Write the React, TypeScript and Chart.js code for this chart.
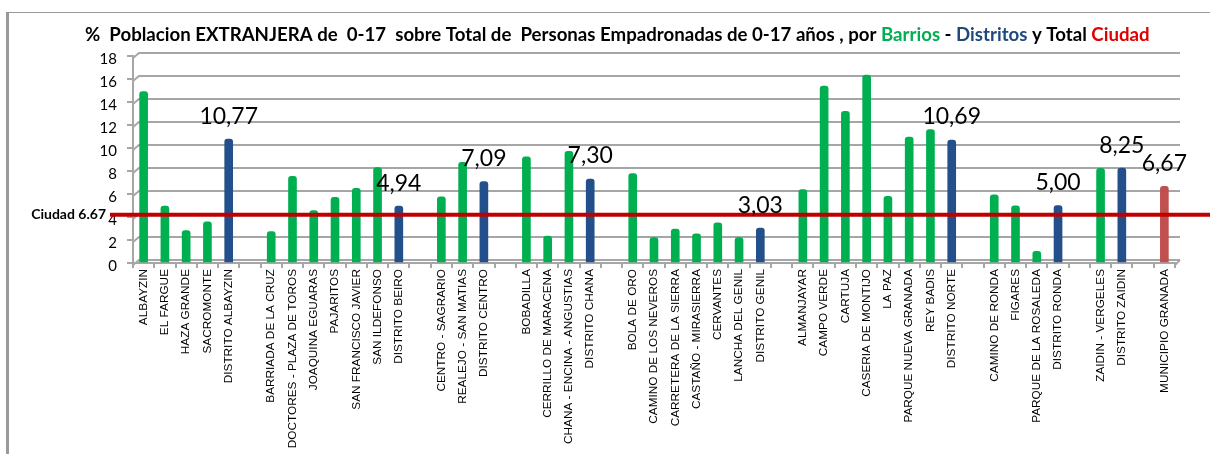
import React, { useEffect, useRef } from "react";
import { Chart, registerables } from "chart.js";

Chart.register(...registerables);

// ---- DATA ----
const CATEGORIES: string[] = [
  "ALBAYZIN", "EL FARGUE", "HAZA GRANDE", "SACROMONTE", "DISTRITO ALBAYZIN", "",
  "BARRIADA DE LA CRUZ", "DOCTORES - PLAZA DE TOROS", "JOAQUINA EGUARAS", "PAJARITOS", "SAN FRANCISCO JAVIER", "SAN ILDEFONSO", "DISTRITO BEIRO", "",
  "CENTRO - SAGRARIO", "REALEJO - SAN MATIAS", "DISTRITO CENTRO", "",
  "BOBADILLA", "CERRILLO DE MARACENA", "CHANA - ENCINA - ANGUSTIAS", "DISTRITO CHANA", "",
  "BOLA DE ORO", "CAMINO DE LOS NEVEROS", "CARRETERA DE LA SIERRA", "CASTAÑO - MIRASIERRA", "CERVANTES", "LANCHA DEL GENIL", "DISTRITO GENIL", "",
  "ALMANJAYAR", "CAMPO VERDE", "CARTUJA", "CASERIA DE MONTIJO", "LA PAZ", "PARQUE NUEVA GRANADA", "REY BADIS", "DISTRITO NORTE", "",
  "CAMINO DE RONDA", "FIGARES", "PARQUE DE LA ROSALEDA", "DISTRITO RONDA", "",
  "ZAIDIN - VERGELES", "DISTRITO ZAIDIN", "",
  "MUNICIPIO GRANADA",
];

const VALUES: (number | null)[] = [
  14.9, 4.94, 2.83, 3.58, 10.77, null,
  2.74, 7.53, 4.56, 5.71, 6.5, 8.29, 4.94, null,
  5.75, 8.75, 7.09, null,
  9.24, 2.34, 9.7, 7.3, null,
  7.77, 2.2, 2.94, 2.54, 3.5, 2.22, 3.03, null,
  6.38, 15.39, 13.19, 16.34, 5.8, 10.94, 11.6, 10.69, null,
  5.92, 4.97, 1.01, 5.0, null,
  8.23, 8.25, null,
  6.67,
];

// B = barrio, D = distrito, M = municipio
const KINDS: string[] = [
  "B", "B", "B", "B", "D", "",
  "B", "B", "B", "B", "B", "B", "D", "",
  "B", "B", "D", "",
  "B", "B", "B", "D", "",
  "B", "B", "B", "B", "B", "B", "D", "",
  "B", "B", "B", "B", "B", "B", "B", "D", "",
  "B", "B", "B", "D", "",
  "B", "D", "",
  "M",
];

const Y_MAX = 18;
const Y_STEP = 2;
const CIUDAD_LABEL = "Ciudad 6.67";
const CIUDAD_LINE_AT = 4.2;

const TITLE_PARTS: { text: string; color: string }[] = [
  { text: "%  Poblacion EXTRANJERA de  0-17  sobre Total de  Personas Empadronadas de 0-17 años , por ", color: "#000000" },
  { text: "Barrios", color: "#00b050" },
  { text: " - ", color: "#000000" },
  { text: "Distritos", color: "#1f497d" },
  { text: " y Total ", color: "#000000" },
  { text: "Ciudad", color: "#e00000" },
];

const KIND_COLORS: Record<string, string> = {
  B: "#00b050",
  D: "#23508a",
  M: "#c0504d",
};

const GRID = "#a6a6a6";

export default function App() {
  const ref = useRef<HTMLCanvasElement | null>(null);

  useEffect(() => {
    if (!ref.current) return;

    const framePlugin = {
      id: "frame",
      beforeDraw(chart: any) {
        const ctx = chart.ctx;
        ctx.save();
        ctx.fillStyle = "#ffffff";
        ctx.fillRect(0, 0, chart.width, chart.height);
        ctx.strokeStyle = "#9a9a9a";
        ctx.lineWidth = 1;
        ctx.beginPath();
        ctx.moveTo(6, 12.5);
        ctx.lineTo(chart.width, 12.5);
        ctx.stroke();
        ctx.lineWidth = 3;
        ctx.beginPath();
        ctx.moveTo(7.5, 12);
        ctx.lineTo(7.5, chart.height);
        ctx.stroke();

        // title
        const target = 1065;
        const full = TITLE_PARTS.map((p) => p.text).join("");
        ctx.font = "bold 15px Lato";
        const w15 = ctx.measureText(full).width;
        const size = (15 * target) / w15;
        ctx.font = `bold ${size.toFixed(2)}px Lato`;
        let x = 85;
        ctx.textBaseline = "middle";
        ctx.textAlign = "left";
        for (const p of TITLE_PARTS) {
          ctx.fillStyle = p.color;
          ctx.fillText(p.text, x, 35);
          x += ctx.measureText(p.text).width;
        }
        ctx.restore();
      },
    };

    const gridPlugin = {
      id: "grid3d",
      beforeDatasetsDraw(chart: any) {
        const ctx = chart.ctx;
        const ys = chart.scales.y;
        const { left, right } = chart.chartArea;
        ctx.save();
        ctx.strokeStyle = GRID;
        ctx.lineWidth = 2;
        for (let v = 0; v <= Y_MAX; v += Y_STEP) {
          const y = ys.getPixelForValue(v);
          ctx.beginPath();
          ctx.moveTo(left, y + 2);
          ctx.lineTo(left + 6, y - 3);
          ctx.lineTo(right + 5, y - 3);
          ctx.stroke();
        }
        const y0 = ys.getPixelForValue(0);
        ctx.beginPath();
        ctx.moveTo(right, y0 + 2);
        ctx.lineTo(right + 5, y0 - 3);
        ctx.stroke();
        ctx.restore();
      },
    };

    const overlayPlugin = {
      id: "overlay",
      afterDatasetsDraw(chart: any) {
        const ctx = chart.ctx;
        const ys = chart.scales.y;
        const meta = chart.getDatasetMeta(0);
        ctx.save();
        const yl = ys.getPixelForValue(CIUDAD_LINE_AT);
        ctx.strokeStyle = "#c00000";
        ctx.lineWidth = 4;
        ctx.beginPath();
        ctx.moveTo(110, yl);
        ctx.lineTo(chart.width, yl);
        ctx.stroke();
        ctx.fillStyle = "#000000";
        ctx.font = "bold 14px Lato";
        ctx.textAlign = "right";
        ctx.textBaseline = "middle";
        ctx.fillText(CIUDAD_LABEL, 106, yl);

        ctx.font = "23px Lato";
        ctx.textAlign = "center";
        ctx.textBaseline = "middle";
        meta.data.forEach((el: any, i: number) => {
          const k = KINDS[i];
          const v = VALUES[i];
          if ((k === "D" || k === "M") && v != null) {
            ctx.fillStyle = "#000000";
            ctx.fillText(v.toFixed(2).replace(".", ","), el.x, el.y - 23);
          }
        });
        ctx.restore();
      },
    };

    const chart = new Chart(ref.current, {
      type: "bar",
      data: {
        labels: CATEGORIES,
        datasets: [
          {
            data: VALUES as any,
            backgroundColor: KINDS.map((k) => KIND_COLORS[k] || "#00b050"),
            barThickness: 8,
            borderRadius: { topLeft: 3, topRight: 3, bottomLeft: 0, bottomRight: 0 },
            borderSkipped: "bottom",
          },
        ],
      },
      options: {
        animation: false,
        responsive: false,
        maintainAspectRatio: false,
        layout: { padding: { top: 56, left: 8, right: 35, bottom: 0 } },
        plugins: {
          legend: { display: false },
          title: { display: false },
          tooltip: { enabled: false },
        },
        scales: {
          x: {
            offset: true,
            grid: {
              offset: true,
              drawOnChartArea: false,
              drawTicks: true,
              tickLength: 5,
              color: GRID,
              lineWidth: 2,
            },
            border: { display: true, color: GRID, width: 2 },
            ticks: {
              autoSkip: false,
              maxRotation: 90,
              minRotation: 90,
              padding: 1,
              color: "#000000",
              font: { family: "Liberation Sans", size: 11.8 },
            },
            afterFit(scale: any) {
              scale.height = 191;
            },
          },
          y: {
            min: 0,
            max: Y_MAX,
            ticks: {
              stepSize: Y_STEP,
              color: "#000000",
              padding: 10,
              labelOffset: 3,
              font: { family: "Lato", size: 15 },
            },
            grid: {
              drawOnChartArea: false,
              drawTicks: true,
              tickLength: 6,
              color: GRID,
              lineWidth: 2,
            },
            border: { display: true, color: GRID, width: 2 },
            afterFit(scale: any) {
              scale.width = 125;
            },
          },
        },
      },
      plugins: [framePlugin, gridPlugin, overlayPlugin],
    });

    return () => chart.destroy();
  }, []);

  return (
    <div style={{ position: "fixed", left: 0, top: 0, width: 1210, height: 454, background: "#fff" }}>
      <canvas ref={ref} width={1210} height={454} style={{ width: 1210, height: 454, display: "block" }} />
    </div>
  );
}
